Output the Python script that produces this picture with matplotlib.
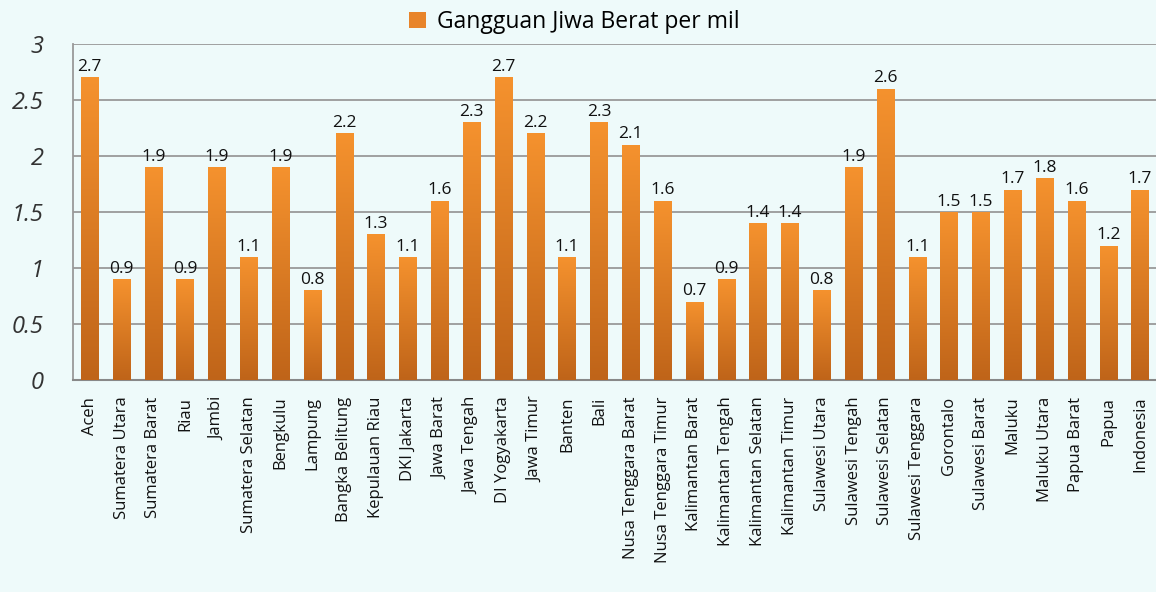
import numpy as np
import matplotlib
matplotlib.use("Agg")
import matplotlib.pyplot as plt
from matplotlib.colors import LinearSegmentedColormap
from matplotlib.patches import Patch

provinsi = [
    "Aceh", "Sumatera Utara", "Sumatera Barat", "Riau", "Jambi",
    "Sumatera Selatan", "Bengkulu", "Lampung", "Bangka Belitung",
    "Kepulauan Riau", "DKI Jakarta", "Jawa Barat", "Jawa Tengah",
    "DI Yogyakarta", "Jawa Timur", "Banten", "Bali", "Nusa Tenggara Barat",
    "Nusa Tenggara Timur", "Kalimantan Barat", "Kalimantan Tengah",
    "Kalimantan Selatan", "Kalimantan Timur", "Sulawesi Utara",
    "Sulawesi Tengah", "Sulawesi Selatan", "Sulawesi Tenggara", "Gorontalo",
    "Sulawesi Barat", "Maluku", "Maluku Utara", "Papua Barat", "Papua",
    "Indonesia",
]
nilai = [
    2.7, 0.9, 1.9, 0.9, 1.9, 1.1, 1.9, 0.8, 2.2, 1.3, 1.1, 1.6, 2.3, 2.7,
    2.2, 1.1, 2.3, 2.1, 1.6, 0.7, 0.9, 1.4, 1.4, 0.8, 1.9, 2.6, 1.1, 1.5,
    1.5, 1.7, 1.8, 1.6, 1.2, 1.7,
]
yticks = [0, 0.5, 1, 1.5, 2, 2.5, 3]

bg = "#eefafa"
plt.rcParams["font.family"] = ["Open Sans", "DejaVu Sans"]

fig = plt.figure(figsize=(11.56, 5.92), dpi=100, facecolor=bg)
ax = fig.add_axes([0.063, 0.358, 0.937, 0.568], facecolor=bg)

x = np.arange(len(provinsi))
bars = ax.bar(x, nilai, width=0.55, color="#e8842a", zorder=3)

# gradasi warna di dalam batang
cmap = LinearSegmentedColormap.from_list("oranye", ["#bf6419", "#f5922e"])
grad = np.linspace(0, 1, 256).reshape(-1, 1)
for bar in bars:
    x0 = bar.get_x()
    w = bar.get_width()
    h = bar.get_height()
    im = ax.imshow(grad, cmap=cmap, aspect="auto", origin="lower",
                   extent=[x0, x0 + w, 0, h], zorder=4)
    im.set_clip_path(bar)
    ax.text(x0 + w / 2, h + 0.02, f"{h:.1f}", ha="center", va="bottom",
            fontsize=12.5, color="#111111", zorder=5)

ax.set_xlim(-0.53, len(provinsi) - 0.5)
ax.set_ylim(0, 3)
ax.set_yticks(yticks)
ax.set_yticklabels([f"{t:g}" for t in yticks], fontsize=17, style="italic",
                   color="#333333")
ax.set_xticks(x)
ax.set_xticklabels(provinsi, rotation=90, fontsize=12, color="#111111")
ax.tick_params(axis="both", length=0)
ax.tick_params(axis="y", pad=21)
ax.tick_params(axis="x", pad=12)
ax.grid(axis="y", color="#999999", linewidth=1.3, zorder=1)

for s in ["top", "right"]:
    ax.spines[s].set_visible(False)
ax.spines["left"].set_color("#999999")
ax.spines["bottom"].set_color("#888888")
ax.spines["left"].set_linewidth(1.3)
ax.spines["bottom"].set_linewidth(1.5)
ax.set_ylim(0, 3)

handle = Patch(facecolor="#e8842a", edgecolor="none")
fig.legend([handle], ["Gangguan Jiwa Berat per mil"], loc="center",
           bbox_to_anchor=(0.497, 0.963), frameon=False, fontsize=16.5,
           handlelength=0.7, handleheight=0.7, handletextpad=0.5)

plt.savefig("out.png", dpi=100, facecolor=bg)
plt.close()
